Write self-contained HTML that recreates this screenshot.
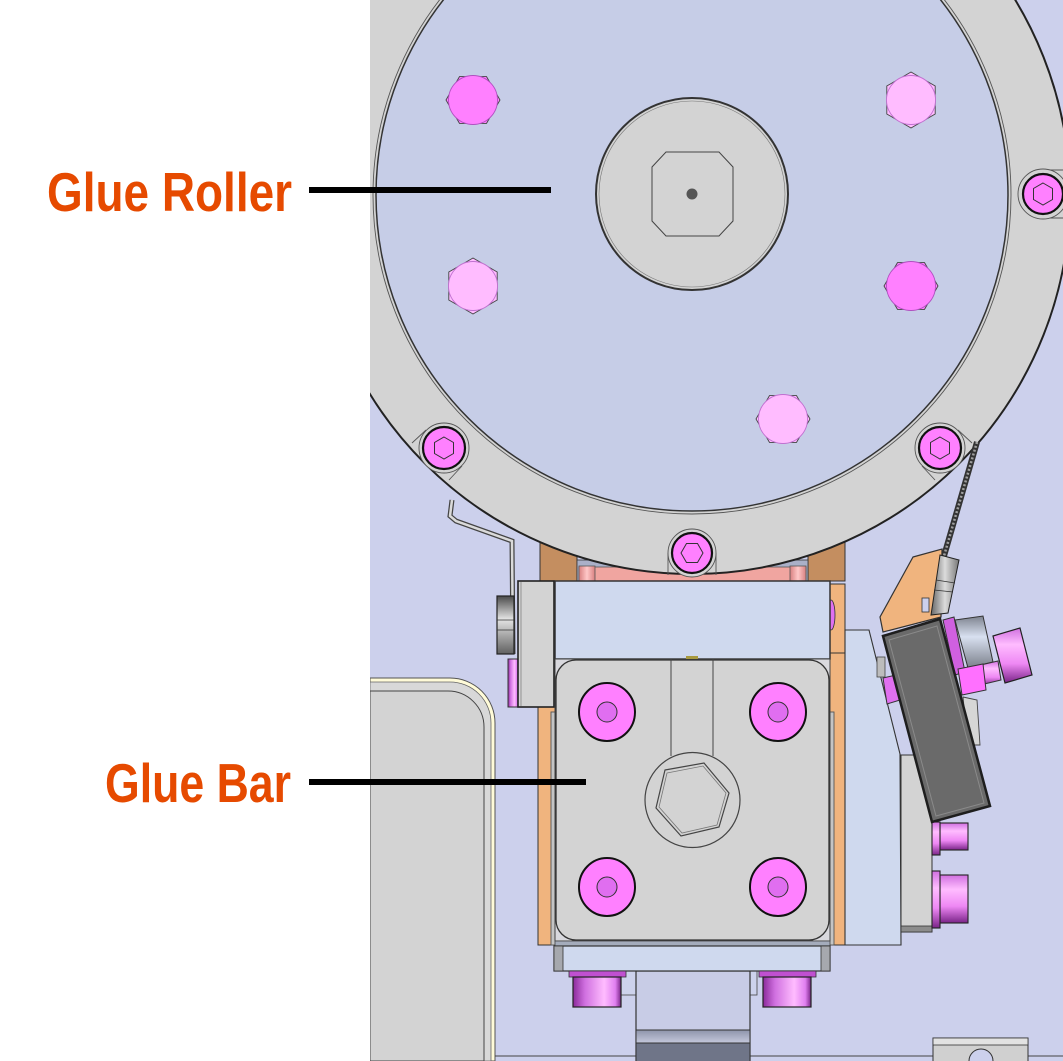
<!DOCTYPE html>
<html><head><meta charset="utf-8">
<style>html,body{margin:0;padding:0;background:#fff;}svg{display:block;}</style></head>
<body>
<svg width="1063" height="1061" viewBox="0 0 1063 1061" xmlns="http://www.w3.org/2000/svg">
<defs>
 <linearGradient id="pv" x1="0" y1="0" x2="0" y2="1">
  <stop offset="0" stop-color="#d070e0"/><stop offset="0.3" stop-color="#ffbcff"/><stop offset="0.65" stop-color="#ee88f4"/><stop offset="1" stop-color="#7a2488"/>
 </linearGradient>
 <linearGradient id="ph" x1="0" y1="0" x2="1" y2="0">
  <stop offset="0" stop-color="#8a2a9a"/><stop offset="0.25" stop-color="#d070e0"/><stop offset="0.65" stop-color="#ffbcff"/><stop offset="0.88" stop-color="#e080f0"/><stop offset="1" stop-color="#7a2488"/>
 </linearGradient>
 <linearGradient id="gv" x1="0" y1="0" x2="0" y2="1">
  <stop offset="0" stop-color="#4a4a4a"/><stop offset="0.4" stop-color="#e4e4e4"/><stop offset="1" stop-color="#606060"/>
 </linearGradient>
 <linearGradient id="gh" x1="0" y1="0" x2="1" y2="0">
  <stop offset="0" stop-color="#666"/><stop offset="0.5" stop-color="#dcdcdc"/><stop offset="1" stop-color="#777"/>
 </linearGradient>
 <linearGradient id="gb" x1="0" y1="0" x2="0" y2="1">
  <stop offset="0" stop-color="#7d828e"/><stop offset="0.4" stop-color="#d8e0f0"/><stop offset="1" stop-color="#7a7f8a"/>
 </linearGradient>
 <linearGradient id="pk" x1="0" y1="0" x2="1" y2="0">
  <stop offset="0" stop-color="#d88080"/><stop offset="0.5" stop-color="#ffc8c8"/><stop offset="1" stop-color="#d88080"/>
 </linearGradient>
 <linearGradient id="stb" x1="0" y1="0" x2="0" y2="1">
  <stop offset="0" stop-color="#8e94aa"/><stop offset="1" stop-color="#c4c8dc"/>
 </linearGradient>
 <clipPath id="clip"><rect x="370" y="0" width="693" height="1061"/></clipPath>
</defs>
<rect width="1063" height="1061" fill="#fff"/>
<g clip-path="url(#clip)">
 <rect x="370" y="0" width="693" height="1061" fill="#ccd0ec"/>

 <!-- left panel -->
 <path d="M370,678 L450,678 A45,45 0 0 1 495,723 L495,1061 L370,1061 Z" fill="#fffbd8" stroke="#555" stroke-width="1"/>
 <path d="M370,682 L450,682 A41,41 0 0 1 491,723 L491,1061 L370,1061 Z" fill="#d8d8d8" stroke="#666" stroke-width="0.8"/>
 <path d="M370,691 L448,691 A36,36 0 0 1 484,727 L484,1061 L370,1061 Z" fill="#d3d3d3" stroke="#444" stroke-width="1"/>

 <!-- bottom line -->
 <line x1="495" y1="1056" x2="1063" y2="1056" stroke="#444" stroke-width="1"/>

 <!-- bottom right part -->
 <rect x="933" y="1038" width="95" height="30" fill="#d0d0d0" stroke="#333" stroke-width="1"/>
 <rect x="933" y="1038" width="95" height="7" fill="#e2e2e2" stroke="#333" stroke-width="0.8"/>
 <circle cx="981" cy="1061" r="12" fill="#ccd0ec" stroke="#333" stroke-width="1"/>

 <!-- stem & plate -->
 <rect x="621" y="971" width="136" height="24" fill="#cdd2ec" stroke="#444" stroke-width="0.8"/>
 <rect x="636" y="971" width="114" height="95" fill="#c8cce6" stroke="#333" stroke-width="1.2"/>
 <rect x="636" y="1030" width="114" height="13" fill="url(#stb)" stroke="#333" stroke-width="1"/>
 <rect x="636" y="1043" width="114" height="20" fill="#6f7588" stroke="#333" stroke-width="1"/>

 <!-- copper / pink behind roller -->
 <rect x="540" y="530" width="37" height="51" fill="#c48e60" stroke="#333" stroke-width="1"/>
 <rect x="808" y="530" width="37" height="51" fill="#c48e60" stroke="#333" stroke-width="1"/>
 <rect x="577" y="560" width="231" height="21" fill="#aab0c8" stroke="#333" stroke-width="0.8"/>
 <rect x="579" y="567" width="227" height="14" fill="#f0a5a0" stroke="#555" stroke-width="0.8"/>
 <rect x="579" y="566" width="16" height="15" fill="url(#pk)" stroke="#555" stroke-width="0.8"/>
 <rect x="790" y="566" width="16" height="15" fill="url(#pk)" stroke="#555" stroke-width="0.8"/>

 <!-- ring -->
 <circle cx="692" cy="196" r="378" fill="#d3d3d3" stroke="#222" stroke-width="2"/>
 <!-- ring bolt tabs -->
 <g stroke="#555" stroke-width="0.9" fill="none">
  <line x1="958" y1="430" x2="972" y2="443"/><line x1="922" y1="466" x2="935" y2="480"/>
  <line x1="426" y1="430" x2="412" y2="443"/><line x1="462" y1="466" x2="449" y2="480"/>
  <line x1="668" y1="553" x2="668" y2="575"/><line x1="716" y1="553" x2="716" y2="575"/>
  <line x1="1043" y1="170" x2="1063" y2="170"/><line x1="1043" y1="218" x2="1063" y2="218"/>
 </g>
 <circle cx="692" cy="195" r="319" fill="none" stroke="#555" stroke-width="0.9"/>
 <circle cx="692" cy="195" r="316" fill="#c6cde7" stroke="#333" stroke-width="1.5"/>

 <!-- hub -->
 <circle cx="692" cy="194" r="96" fill="#d3d3d3" stroke="#333" stroke-width="2"/>
 <circle cx="692" cy="194" r="93" fill="none" stroke="#777" stroke-width="0.6"/>
 <polygon points="666,152 719,152 733,167 733,221 719,236 666,236 652,221 652,167" fill="#d3d3d3" stroke="#444" stroke-width="1"/>
 <circle cx="692" cy="194" r="5.5" fill="#555"/>

 <!-- disk hex bolts -->
 <g stroke="#444" stroke-width="0.9">
  <polygon points="446,100 459.5,76.6 486.5,76.6 500,100 486.5,123.4 459.5,123.4" fill="#ff80ff"/>
  <circle cx="473" cy="100" r="24.5" fill="#ff80ff" stroke="#b050c0"/>
  <polygon points="911,72 935.2,86 935.2,114 911,128 886.8,114 886.8,86" fill="#ffbcff"/>
  <circle cx="911" cy="100" r="24.5" fill="#ffbcff" stroke="#c070d0"/>
  <polygon points="473,258 497.2,272 497.2,300 473,314 448.8,300 448.8,272" fill="#ffbcff"/>
  <circle cx="473" cy="286" r="24.5" fill="#ffbcff" stroke="#c070d0"/>
  <polygon points="884,286 897.5,262.6 924.5,262.6 938,286 924.5,309.4 897.5,309.4" fill="#ff80ff"/>
  <circle cx="911" cy="286" r="24.5" fill="#ff80ff" stroke="#b050c0"/>
  <polygon points="756,419 769.5,395.6 796.5,395.6 810,419 796.5,442.4 769.5,442.4" fill="#ffbcff"/>
  <circle cx="783" cy="419" r="24.5" fill="#ffbcff" stroke="#c070d0"/>
 </g>

 <!-- ring socket bolts -->
 <g>
  <circle cx="444" cy="448" r="25" fill="#d3d3d3" stroke="#555" stroke-width="0.9"/>
  <circle cx="444" cy="448" r="21" fill="#ff80ff" stroke="#111" stroke-width="2.2"/>
  <polygon points="444,437 453.5,442.5 453.5,453.5 444,459 434.5,453.5 434.5,442.5" fill="#ff80ff" stroke="#333" stroke-width="1"/>
  <circle cx="940" cy="448" r="25" fill="#d3d3d3" stroke="#555" stroke-width="0.9"/>
  <circle cx="940" cy="448" r="21" fill="#ff80ff" stroke="#111" stroke-width="2.2"/>
  <polygon points="940,437 949.5,442.5 949.5,453.5 940,459 930.5,453.5 930.5,442.5" fill="#ff80ff" stroke="#333" stroke-width="1"/>
  <circle cx="692" cy="553" r="24" fill="#d3d3d3" stroke="#555" stroke-width="0.9"/>
  <circle cx="692" cy="553" r="20" fill="#ff80ff" stroke="#111" stroke-width="2.2"/>
  <polygon points="681,553 686.5,543.5 697.5,543.5 703,553 697.5,562.5 686.5,562.5" fill="#ff80ff" stroke="#333" stroke-width="1"/>
  <circle cx="1043" cy="194" r="25" fill="#d3d3d3" stroke="#555" stroke-width="0.9"/>
  <circle cx="1043" cy="194" r="20" fill="#ff80ff" stroke="#111" stroke-width="2.2"/>
  <polygon points="1043,183 1052.5,188.5 1052.5,199.5 1043,205 1033.5,199.5 1033.5,188.5" fill="#ff80ff" stroke="#333" stroke-width="1"/>
 </g>

 <!-- left wire bracket, knob, stub, plate -->
 <polyline points="452,500 450,516 456,521 512,541 513,654" fill="none" stroke="#444" stroke-width="5"/>
 <polyline points="452,500 450,516 456,521 512,541 513,654" fill="none" stroke="#dadada" stroke-width="2.5"/>
 <rect x="497" y="596" width="17" height="58" fill="url(#gv)" stroke="#222" stroke-width="1.2"/>
 <line x1="497" y1="620" x2="514" y2="620" stroke="#333" stroke-width="0.8"/>
 <line x1="497" y1="630" x2="514" y2="630" stroke="#333" stroke-width="0.8"/>
 <rect x="508" y="659" width="10" height="48" fill="url(#ph)" stroke="#333" stroke-width="1"/>

 <!-- orange strips -->
 <rect x="830" y="584" width="15" height="361" fill="#f0b47e" stroke="#333" stroke-width="1"/>
 <line x1="830" y1="653" x2="845" y2="653" stroke="#333" stroke-width="1"/>
 <ellipse cx="831" cy="615" rx="4" ry="15" fill="#e070f0" stroke="#333" stroke-width="0.8"/>
 <rect x="538" y="707" width="17" height="238" fill="#f0b47e" stroke="#333" stroke-width="1"/>
 <rect x="551" y="712" width="283" height="233" fill="#c4c4c4" stroke="#555" stroke-width="0.9"/>

 <!-- left gray plate -->
 <rect x="518" y="581" width="36" height="126" fill="#d3d3d3" stroke="#222" stroke-width="1.6"/>
 <line x1="521" y1="582" x2="521" y2="706" stroke="#777" stroke-width="0.7"/>

 <!-- top block -->
 <rect x="555" y="581" width="275" height="78" fill="#cfd9ee" stroke="#333" stroke-width="1.5"/>

 <!-- glue bar -->
 <rect x="555" y="659" width="275" height="282" fill="#d9d9de" stroke="#444" stroke-width="1"/>
 <rect x="556" y="660" width="273" height="280" rx="20" fill="#d3d3d3" stroke="#333" stroke-width="1.3"/>
 <rect x="686" y="656" width="12" height="3" fill="#a89a40"/>
 <line x1="671" y1="659" x2="671" y2="756" stroke="#444" stroke-width="1"/>
 <line x1="713" y1="659" x2="713" y2="756" stroke="#444" stroke-width="1"/>
 <circle cx="692.5" cy="800" r="47.5" fill="#d3d3d3" stroke="#444" stroke-width="1.2"/>
 <polygon points="665,770 704,763 729,793 719,827 681,836 656,808" fill="none" stroke="#444" stroke-width="1.2"/>
 <polygon points="667,773 703,766 726,793 717,825 682,833 659,807" fill="none" stroke="#777" stroke-width="0.8"/>
 <g>
  <ellipse cx="607" cy="712" rx="28" ry="29" fill="#ff80ff" stroke="#111" stroke-width="2"/>
  <circle cx="607" cy="712" r="10" fill="#e06ef0" stroke="#333" stroke-width="1"/>
  <ellipse cx="778" cy="712" rx="28" ry="29" fill="#ff80ff" stroke="#111" stroke-width="2"/>
  <circle cx="778" cy="712" r="10" fill="#e06ef0" stroke="#333" stroke-width="1"/>
  <ellipse cx="607" cy="887" rx="28" ry="29" fill="#ff80ff" stroke="#111" stroke-width="2"/>
  <circle cx="607" cy="887" r="10" fill="#e06ef0" stroke="#333" stroke-width="1"/>
  <ellipse cx="778" cy="887" rx="28" ry="29" fill="#ff80ff" stroke="#111" stroke-width="2"/>
  <circle cx="778" cy="887" r="10" fill="#e06ef0" stroke="#333" stroke-width="1"/>
 </g>

 <!-- bottom band & plate -->
 <rect x="555" y="941" width="275" height="5" fill="#a4acbc" stroke="#444" stroke-width="0.8"/>
 <rect x="554" y="946" width="276" height="25" fill="#cfd9ee" stroke="#333" stroke-width="1.2"/>
 <rect x="554" y="946" width="9" height="25" fill="#a6a8ae" stroke="#333" stroke-width="0.8"/>
 <rect x="821" y="946" width="9" height="25" fill="#a6a8ae" stroke="#333" stroke-width="0.8"/>

 <!-- bottom bolts -->
 <rect x="569" y="971" width="57" height="6" fill="#c050d0" stroke="#333" stroke-width="0.8"/>
 <rect x="573" y="977" width="48" height="30" fill="url(#ph)" stroke="#222" stroke-width="1.2"/>
 <rect x="759" y="971" width="57" height="6" fill="#c050d0" stroke="#333" stroke-width="0.8"/>
 <rect x="763" y="977" width="48" height="30" fill="url(#ph)" stroke="#222" stroke-width="1.2"/>

 <!-- right side -->
 <polygon points="845,630 869,630 900,754 901,945 845,945" fill="#cfd9ee" stroke="#333" stroke-width="1.1"/>
 <rect x="901" y="755" width="31" height="177" fill="#d3d3d3" stroke="#333" stroke-width="1"/>
 <rect x="901" y="926" width="31" height="6" fill="#8c8c8c" stroke="#333" stroke-width="0.8"/>
 <rect x="940" y="823" width="28" height="27" fill="url(#pv)" stroke="#222" stroke-width="1.1"/>
 <rect x="932" y="822" width="8" height="33" fill="url(#pv)" stroke="#222" stroke-width="1.1"/>
 <rect x="940" y="875" width="28" height="48" fill="url(#pv)" stroke="#222" stroke-width="1.1"/>
 <rect x="932" y="871" width="8" height="57" fill="url(#pv)" stroke="#222" stroke-width="1.1"/>

 <!-- wire -->
 <line x1="977" y1="442" x2="944" y2="556" stroke="#333" stroke-width="6"/>
 <line x1="977" y1="442" x2="944" y2="556" stroke="#a0a0a0" stroke-width="2.5" stroke-dasharray="2 2"/>

 <!-- orange bracket -->
 <polygon points="913,557 942,549 941,617 883,632 880,617" fill="#f0b47e" stroke="#333" stroke-width="1.2"/>
 <rect x="922" y="598" width="7" height="14" fill="#ccd0ec" stroke="#333" stroke-width="0.8"/>
 <polygon points="940,555 959,560 948,613 931,615" fill="url(#gh)" stroke="#222" stroke-width="1"/>
 <line x1="936" y1="580" x2="955" y2="583" stroke="#333" stroke-width="0.8"/>
 <line x1="934" y1="590" x2="953" y2="592" stroke="#333" stroke-width="0.8"/>

 <!-- purple parts behind dark block -->
 <polygon points="943,620 954,617 965,672 955,675" fill="#d060e0" stroke="#333" stroke-width="1"/>
 <polygon points="955,620 983,616 993,662 968,668" fill="url(#gb)" stroke="#333" stroke-width="1"/>
 <polygon points="972,667 998,661 1001,680 976,686" fill="url(#pv)" stroke="#333" stroke-width="1"/>
 <polygon points="993,636 1020,628 1032,675 1005,683" fill="url(#pv)" stroke="#222" stroke-width="1.2"/>
 <polygon points="958,669 983,664 986,690 962,695" fill="#ff70ff" stroke="#333" stroke-width="1"/>
 <polygon points="963,697 977,700 980,745 968,745" fill="#d6d6d6" stroke="#444" stroke-width="0.9"/>
 <rect x="877" y="657" width="8" height="20" fill="#bcbcbc" stroke="#444" stroke-width="0.8"/>
 <polygon points="883,678 896,675 900,700 887,704" fill="#e070f0" stroke="#333" stroke-width="1"/>

 <!-- dark block -->
 <polygon points="883,636 940,619 990,806 932,822" fill="#6a6a6a" stroke="#1e1e1e" stroke-width="2.5"/>
 <polygon points="889,640 937,626 984,803 936,816" fill="none" stroke="#8a8a8a" stroke-width="1"/>
</g>

<!-- labels -->
<text x="47" y="211" font-family="'Liberation Sans Narrow','Liberation Sans',sans-serif" font-weight="bold" font-size="55" fill="#e64a00" textLength="245" lengthAdjust="spacingAndGlyphs">Glue Roller</text>
<rect x="309" y="187" width="242" height="6" fill="#000"/>
<text x="105" y="802" font-family="'Liberation Sans Narrow','Liberation Sans',sans-serif" font-weight="bold" font-size="55" fill="#e64a00" textLength="186" lengthAdjust="spacingAndGlyphs">Glue Bar</text>
<rect x="309" y="779" width="277" height="6" fill="#000"/>
</svg>
</body></html>
